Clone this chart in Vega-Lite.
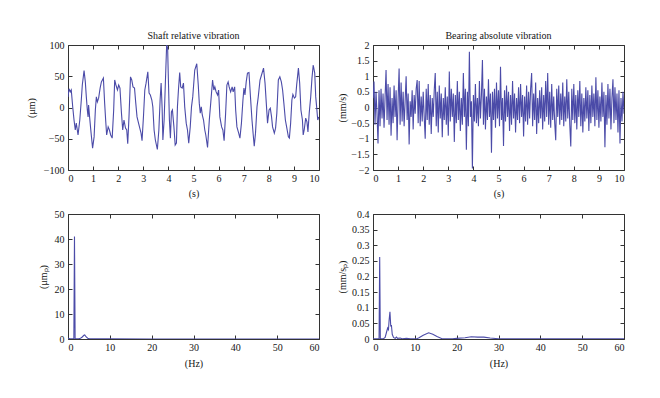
{
"$schema": "https://vega.github.io/schema/vega-lite/v6.json",
"background": "white",
"padding": {"left": 25, "top": 30, "right": 5, "bottom": 5},
"config": {
  "font": "Liberation Serif",
  "view": {"stroke": "#333333", "strokeWidth": 1},
  "axis": {"grid": false, "domain": false, "tickSize": -4, "tickColor": "#333333", "labelFont": "Liberation Serif", "labelFontSize": 10, "labelColor": "#161616", "titleFont": "Liberation Serif", "titleFontSize": 10, "titleFontWeight": "normal", "titleColor": "#161616"},
  "axisX": {"labelPadding": 7},
  "axisY": {"labelPadding": 8},
  "title": {"font": "Liberation Serif", "fontSize": 10, "fontWeight": "normal", "color": "#161616", "offset": -1},
  "line": {"color": "#4b4ba8", "strokeWidth": 1.1}
},
"datasets": {
"shaft": [{"t":0,"v":17},{"t":0.04,"v":30},{"t":0.09,"v":25},{"t":0.13,"v":28},{"t":0.19,"v":0},{"t":0.24,"v":-20},{"t":0.29,"v":-36},{"t":0.33,"v":-25},{"t":0.40,"v":-44},{"t":0.47,"v":-20},{"t":0.53,"v":12},{"t":0.57,"v":36},{"t":0.64,"v":59},{"t":0.69,"v":41},{"t":0.73,"v":17},{"t":0.77,"v":-4},{"t":0.80,"v":-15},{"t":0.82,"v":4},{"t":0.86,"v":-15},{"t":0.92,"v":-41},{"t":0.98,"v":-65},{"t":1.04,"v":-47},{"t":1.09,"v":-4},{"t":1.13,"v":17},{"t":1.17,"v":9},{"t":1.22,"v":15},{"t":1.28,"v":31},{"t":1.33,"v":41},{"t":1.37,"v":44},{"t":1.41,"v":47},{"t":1.46,"v":7},{"t":1.50,"v":-20},{"t":1.54,"v":-44},{"t":1.60,"v":-31},{"t":1.65,"v":-36},{"t":1.70,"v":-44},{"t":1.76,"v":-49},{"t":1.82,"v":-4},{"t":1.86,"v":44},{"t":1.91,"v":36},{"t":1.97,"v":28},{"t":2.02,"v":36},{"t":2.07,"v":31},{"t":2.13,"v":-9},{"t":2.18,"v":-36},{"t":2.23,"v":-20},{"t":2.29,"v":-33},{"t":2.34,"v":-36},{"t":2.38,"v":-58},{"t":2.43,"v":-15},{"t":2.49,"v":49},{"t":2.54,"v":44},{"t":2.59,"v":33},{"t":2.65,"v":31},{"t":2.70,"v":7},{"t":2.75,"v":-15},{"t":2.81,"v":-25},{"t":2.86,"v":-33},{"t":2.91,"v":-41},{"t":2.95,"v":-53},{"t":3.01,"v":-12},{"t":3.06,"v":28},{"t":3.11,"v":39},{"t":3.18,"v":57},{"t":3.23,"v":23},{"t":3.28,"v":20},{"t":3.34,"v":12},{"t":3.38,"v":1},{"t":3.43,"v":-36},{"t":3.48,"v":-52},{"t":3.56,"v":-67},{"t":3.62,"v":-36},{"t":3.67,"v":12},{"t":3.71,"v":39},{"t":3.75,"v":-1},{"t":3.78,"v":-52},{"t":3.83,"v":-20},{"t":3.88,"v":40},{"t":3.93,"v":100},{"t":3.97,"v":95},{"t":3.99,"v":60},{"t":4.04,"v":-20},{"t":4.08,"v":-49},{"t":4.12,"v":-7},{"t":4.16,"v":-4},{"t":4.22,"v":-31},{"t":4.27,"v":-60},{"t":4.32,"v":-57},{"t":4.36,"v":1},{"t":4.40,"v":28},{"t":4.45,"v":56},{"t":4.49,"v":33},{"t":4.55,"v":31},{"t":4.60,"v":39},{"t":4.65,"v":1},{"t":4.71,"v":-25},{"t":4.76,"v":-36},{"t":4.81,"v":-57},{"t":4.87,"v":-31},{"t":4.92,"v":1},{"t":4.97,"v":17},{"t":5.05,"v":60},{"t":5.13,"v":70},{"t":5.19,"v":36},{"t":5.23,"v":7},{"t":5.27,"v":-9},{"t":5.31,"v":1},{"t":5.35,"v":-12},{"t":5.40,"v":-20},{"t":5.45,"v":-36},{"t":5.49,"v":-44},{"t":5.56,"v":-64},{"t":5.63,"v":-20},{"t":5.69,"v":9},{"t":5.76,"v":44},{"t":5.81,"v":28},{"t":5.85,"v":33},{"t":5.90,"v":25},{"t":5.96,"v":20},{"t":6.00,"v":28},{"t":6.05,"v":-15},{"t":6.12,"v":-31},{"t":6.17,"v":-36},{"t":6.22,"v":-53},{"t":6.28,"v":-9},{"t":6.33,"v":36},{"t":6.38,"v":41},{"t":6.42,"v":33},{"t":6.48,"v":25},{"t":6.54,"v":33},{"t":6.58,"v":25},{"t":6.64,"v":33},{"t":6.68,"v":-4},{"t":6.73,"v":-31},{"t":6.80,"v":-41},{"t":6.85,"v":-49},{"t":6.91,"v":-25},{"t":6.97,"v":12},{"t":7.01,"v":31},{"t":7.05,"v":20},{"t":7.10,"v":41},{"t":7.15,"v":55},{"t":7.21,"v":56},{"t":7.27,"v":17},{"t":7.33,"v":-20},{"t":7.38,"v":-44},{"t":7.42,"v":-62},{"t":7.47,"v":-41},{"t":7.53,"v":1},{"t":7.58,"v":17},{"t":7.65,"v":44},{"t":7.71,"v":52},{"t":7.79,"v":63},{"t":7.85,"v":39},{"t":7.90,"v":7},{"t":7.95,"v":-25},{"t":8.01,"v":-4},{"t":8.06,"v":-1},{"t":8.11,"v":-15},{"t":8.15,"v":-31},{"t":8.22,"v":-41},{"t":8.27,"v":-33},{"t":8.32,"v":-9},{"t":8.38,"v":44},{"t":8.44,"v":49},{"t":8.50,"v":41},{"t":8.55,"v":28},{"t":8.60,"v":7},{"t":8.66,"v":-20},{"t":8.71,"v":-31},{"t":8.78,"v":-47},{"t":8.82,"v":-49},{"t":8.87,"v":-25},{"t":8.92,"v":12},{"t":8.96,"v":21},{"t":9.02,"v":15},{"t":9.07,"v":17},{"t":9.11,"v":36},{"t":9.18,"v":63},{"t":9.23,"v":39},{"t":9.28,"v":-4},{"t":9.34,"v":-20},{"t":9.37,"v":-44},{"t":9.41,"v":-36},{"t":9.47,"v":-17},{"t":9.52,"v":-23},{"t":9.56,"v":-39},{"t":9.61,"v":-9},{"t":9.67,"v":17},{"t":9.72,"v":47},{"t":9.77,"v":68},{"t":9.83,"v":55},{"t":9.87,"v":17},{"t":9.91,"v":-1},{"t":9.95,"v":-20},{"t":9.99,"v":-15}],
"bearing": [{"t":0.00,"v":0.30},{"t":0.04,"v":0.83},{"t":0.08,"v":-0.55},{"t":0.12,"v":0.50},{"t":0.16,"v":-0.20},{"t":0.20,"v":-1.15},{"t":0.24,"v":0.55},{"t":0.28,"v":-0.60},{"t":0.32,"v":0.60},{"t":0.36,"v":-0.35},{"t":0.40,"v":0.45},{"t":0.44,"v":-0.65},{"t":0.48,"v":0.30},{"t":0.52,"v":1.20},{"t":0.56,"v":-0.40},{"t":0.60,"v":0.75},{"t":0.64,"v":-0.55},{"t":0.68,"v":0.65},{"t":0.72,"v":-0.90},{"t":0.76,"v":0.30},{"t":0.80,"v":-0.50},{"t":0.84,"v":0.70},{"t":0.88,"v":-0.30},{"t":0.92,"v":0.55},{"t":0.96,"v":-1.05},{"t":1.00,"v":0.25},{"t":1.04,"v":1.25},{"t":1.08,"v":-0.55},{"t":1.12,"v":0.80},{"t":1.16,"v":-0.45},{"t":1.20,"v":0.50},{"t":1.24,"v":-0.60},{"t":1.28,"v":0.20},{"t":1.32,"v":1.00},{"t":1.36,"v":-0.40},{"t":1.40,"v":0.45},{"t":1.44,"v":-1.18},{"t":1.48,"v":0.20},{"t":1.52,"v":-0.30},{"t":1.56,"v":0.55},{"t":1.60,"v":-0.70},{"t":1.64,"v":0.40},{"t":1.68,"v":-0.20},{"t":1.72,"v":0.60},{"t":1.76,"v":0.88},{"t":1.80,"v":-0.50},{"t":1.84,"v":0.85},{"t":1.88,"v":-0.60},{"t":1.92,"v":0.35},{"t":1.96,"v":-0.45},{"t":2.00,"v":0.50},{"t":2.04,"v":-0.30},{"t":2.08,"v":-1.00},{"t":2.12,"v":0.60},{"t":2.16,"v":-0.40},{"t":2.20,"v":0.75},{"t":2.24,"v":-0.55},{"t":2.28,"v":0.40},{"t":2.32,"v":-0.85},{"t":2.36,"v":0.30},{"t":2.40,"v":-0.30},{"t":2.44,"v":0.55},{"t":2.48,"v":1.10},{"t":2.52,"v":-0.60},{"t":2.56,"v":0.50},{"t":2.60,"v":-0.80},{"t":2.64,"v":0.70},{"t":2.68,"v":-0.35},{"t":2.72,"v":0.45},{"t":2.76,"v":-0.95},{"t":2.80,"v":0.30},{"t":2.84,"v":-0.40},{"t":2.88,"v":0.65},{"t":2.92,"v":-0.55},{"t":2.96,"v":0.35},{"t":3.00,"v":-0.90},{"t":3.04,"v":1.15},{"t":3.08,"v":-0.45},{"t":3.12,"v":0.60},{"t":3.16,"v":-0.30},{"t":3.20,"v":0.45},{"t":3.24,"v":-1.10},{"t":3.28,"v":0.40},{"t":3.32,"v":-0.50},{"t":3.36,"v":0.85},{"t":3.40,"v":-0.40},{"t":3.44,"v":0.50},{"t":3.48,"v":-0.75},{"t":3.52,"v":0.30},{"t":3.56,"v":-0.55},{"t":3.60,"v":1.10},{"t":3.64,"v":-0.30},{"t":3.68,"v":0.60},{"t":3.72,"v":-1.35},{"t":3.76,"v":0.50},{"t":3.80,"v":-0.60},{"t":3.84,"v":1.78},{"t":3.88,"v":-0.30},{"t":3.92,"v":0.20},{"t":3.96,"v":-1.95},{"t":4.00,"v":0.40},{"t":4.04,"v":-0.45},{"t":4.08,"v":0.75},{"t":4.12,"v":-0.50},{"t":4.16,"v":0.30},{"t":4.20,"v":-0.60},{"t":4.24,"v":0.85},{"t":4.28,"v":-0.35},{"t":4.32,"v":0.40},{"t":4.36,"v":1.52},{"t":4.40,"v":-0.55},{"t":4.44,"v":0.60},{"t":4.48,"v":-0.70},{"t":4.52,"v":0.35},{"t":4.56,"v":-0.40},{"t":4.60,"v":0.90},{"t":4.64,"v":-0.30},{"t":4.68,"v":0.45},{"t":4.72,"v":-1.45},{"t":4.76,"v":0.50},{"t":4.80,"v":-0.40},{"t":4.84,"v":0.60},{"t":4.88,"v":-0.65},{"t":4.92,"v":0.80},{"t":4.96,"v":-0.35},{"t":5.00,"v":0.55},{"t":5.04,"v":-0.60},{"t":5.08,"v":1.30},{"t":5.12,"v":-0.40},{"t":5.16,"v":0.30},{"t":5.20,"v":-1.23},{"t":5.24,"v":0.55},{"t":5.28,"v":-0.45},{"t":5.32,"v":0.70},{"t":5.36,"v":-0.30},{"t":5.40,"v":0.50},{"t":5.44,"v":-0.75},{"t":5.48,"v":0.40},{"t":5.52,"v":-0.55},{"t":5.56,"v":0.85},{"t":5.60,"v":-0.35},{"t":5.64,"v":0.45},{"t":5.68,"v":-0.80},{"t":5.72,"v":0.30},{"t":5.76,"v":-0.40},{"t":5.80,"v":0.65},{"t":5.84,"v":-0.50},{"t":5.88,"v":0.75},{"t":5.92,"v":-0.30},{"t":5.96,"v":0.40},{"t":6.00,"v":-0.93},{"t":6.04,"v":0.35},{"t":6.08,"v":-0.45},{"t":6.12,"v":0.70},{"t":6.16,"v":-0.55},{"t":6.20,"v":0.50},{"t":6.24,"v":-0.35},{"t":6.28,"v":0.60},{"t":6.32,"v":1.10},{"t":6.36,"v":-0.60},{"t":6.40,"v":0.45},{"t":6.44,"v":-0.40},{"t":6.48,"v":0.80},{"t":6.52,"v":-0.85},{"t":6.56,"v":0.30},{"t":6.60,"v":-0.50},{"t":6.64,"v":0.55},{"t":6.68,"v":-0.35},{"t":6.72,"v":0.65},{"t":6.76,"v":-0.70},{"t":6.80,"v":0.40},{"t":6.84,"v":-0.45},{"t":6.88,"v":0.85},{"t":6.92,"v":-0.30},{"t":6.96,"v":1.10},{"t":7.00,"v":-0.55},{"t":7.04,"v":0.50},{"t":7.08,"v":-0.65},{"t":7.12,"v":0.75},{"t":7.16,"v":-0.40},{"t":7.20,"v":0.35},{"t":7.24,"v":-0.50},{"t":7.28,"v":-1.05},{"t":7.32,"v":0.60},{"t":7.36,"v":-0.30},{"t":7.40,"v":0.70},{"t":7.44,"v":-0.55},{"t":7.48,"v":0.45},{"t":7.52,"v":-0.40},{"t":7.56,"v":0.80},{"t":7.60,"v":-0.60},{"t":7.64,"v":0.35},{"t":7.68,"v":-0.45},{"t":7.72,"v":0.90},{"t":7.76,"v":-0.35},{"t":7.80,"v":0.50},{"t":7.84,"v":-0.55},{"t":7.88,"v":-1.25},{"t":7.92,"v":0.60},{"t":7.96,"v":-0.40},{"t":8.00,"v":0.75},{"t":8.04,"v":-0.50},{"t":8.08,"v":0.40},{"t":8.12,"v":-0.70},{"t":8.16,"v":0.55},{"t":8.20,"v":-0.30},{"t":8.24,"v":0.85},{"t":8.28,"v":-0.60},{"t":8.32,"v":0.45},{"t":8.36,"v":-0.80},{"t":8.40,"v":0.30},{"t":8.44,"v":-0.45},{"t":8.48,"v":0.65},{"t":8.52,"v":-0.35},{"t":8.56,"v":0.55},{"t":8.60,"v":-0.75},{"t":8.64,"v":0.40},{"t":8.68,"v":-0.50},{"t":8.72,"v":0.70},{"t":8.76,"v":-0.30},{"t":8.80,"v":0.45},{"t":8.84,"v":-0.60},{"t":8.88,"v":0.97},{"t":8.92,"v":-0.40},{"t":8.96,"v":0.55},{"t":9.00,"v":-0.65},{"t":9.04,"v":0.35},{"t":9.08,"v":-0.45},{"t":9.12,"v":0.80},{"t":9.16,"v":-0.30},{"t":9.20,"v":0.50},{"t":9.24,"v":-1.27},{"t":9.28,"v":0.40},{"t":9.32,"v":-0.55},{"t":9.36,"v":0.75},{"t":9.40,"v":-0.35},{"t":9.44,"v":0.60},{"t":9.48,"v":-0.70},{"t":9.52,"v":0.30},{"t":9.56,"v":0.90},{"t":9.60,"v":-0.50},{"t":9.64,"v":0.65},{"t":9.68,"v":-0.40},{"t":9.72,"v":0.45},{"t":9.76,"v":-0.80},{"t":9.80,"v":0.55},{"t":9.84,"v":-1.15},{"t":9.88,"v":0.30},{"t":9.92,"v":-0.45},{"t":9.96,"v":0.50},{"t":10.00,"v":-0.20}],
"shaftfft": [{"f":0,"a":0.3},{"f":0.5,"a":0.1},{"f":1.0,"a":0.1},{"f":1.4,"a":0.2},{"f":1.55,"a":41},{"f":1.7,"a":0.2},{"f":2.0,"a":0.1},{"f":2.5,"a":0.1},{"f":3.0,"a":0.3},{"f":3.4,"a":0.8},{"f":3.8,"a":1.5},{"f":4.0,"a":1.6},{"f":4.3,"a":0.9},{"f":4.7,"a":0.3},{"f":5.2,"a":0.1},{"f":6,"a":0.05},{"f":10,"a":0.05},{"f":20,"a":0.02},{"f":40,"a":0.01},{"f":60,"a":0.01}],
"bearingfft": [{"f":0,"a":0.001},{"f":1.0,"a":0.001},{"f":1.45,"a":0.001},{"f":1.6,"a":0.262},{"f":1.75,"a":0.001},{"f":2.5,"a":0.001},{"f":2.9,"a":0.005},{"f":3.2,"a":0.02},{"f":3.5,"a":0.035},{"f":3.7,"a":0.03},{"f":3.85,"a":0.06},{"f":4.05,"a":0.087},{"f":4.25,"a":0.04},{"f":4.4,"a":0.045},{"f":4.6,"a":0.015},{"f":4.9,"a":0.005},{"f":5.3,"a":0.002},{"f":5.6,"a":0.006},{"f":5.9,"a":0.002},{"f":6.5,"a":0.003},{"f":7,"a":0.001},{"f":8,"a":0.002},{"f":9,"a":0.001},{"f":10.5,"a":0.001},{"f":11,"a":0.004},{"f":12,"a":0.012},{"f":13.3,"a":0.02},{"f":14.3,"a":0.015},{"f":15.3,"a":0.008},{"f":16.5,"a":0.001},{"f":19,"a":0.001},{"f":20,"a":0.002},{"f":22,"a":0.004},{"f":23.5,"a":0.007},{"f":25,"a":0.006},{"f":26.5,"a":0.006},{"f":28,"a":0.003},{"f":30,"a":0.001},{"f":40,"a":0.0005},{"f":60,"a":0.0005}]
},
"columns": 2,
"bounds": "flush",
"spacing": {"column": 54, "row": 44},
"concat": [
{
 "title": "Shaft relative vibration",
 "width": 251, "height": 125,
 "data": {"name": "shaft"},
 "layer": [
  {"mark": {"type": "line", "clip": true},
   "encoding": {
    "x": {"field": "t", "type": "quantitative", "scale": {"domain": [0, 10], "nice": false, "zero": false}, "axis": {"values": [0,1,2,3,4,5,6,7,8,9,10], "title": "(s)", "titleY": 23, "titleBaseline": "middle"}},
    "y": {"field": "v", "type": "quantitative", "scale": {"domain": [-100, 100], "nice": false}, "axis": {"values": [-100,-50,0,50,100], "title": "(μm)", "titleX": -37, "titleBaseline": "middle"}}
   }},
  {"mark": {"type": "line", "opacity": 0},
   "encoding": {
    "x": {"field": "t", "type": "quantitative", "scale": {"domain": [0, 10], "nice": false, "zero": false}, "axis": {"orient": "top", "labels": false, "title": null, "values": [0,1,2,3,4,5,6,7,8,9,10]}},
    "y": {"field": "v", "type": "quantitative", "scale": {"domain": [-100, 100], "nice": false}, "axis": {"orient": "right", "labels": false, "title": null, "values": [-100,-50,0,50,100]}}
   }}
 ],
 "resolve": {"axis": {"x": "independent", "y": "independent"}}
},
{
 "title": "Bearing absolute vibration",
 "width": 251, "height": 125,
 "data": {"name": "bearing"},
 "layer": [
  {"mark": {"type": "line", "clip": true},
   "encoding": {
    "x": {"field": "t", "type": "quantitative", "scale": {"domain": [0, 10], "nice": false, "zero": false}, "axis": {"values": [0,1,2,3,4,5,6,7,8,9,10], "title": "(s)", "titleY": 23, "titleBaseline": "middle"}},
    "y": {"field": "v", "type": "quantitative", "scale": {"domain": [-2, 2], "nice": false}, "axis": {"values": [-2,-1.5,-1,-0.5,0,0.5,1,1.5,2], "format": "~g", "title": "(mm/s)", "titleX": -31, "titleBaseline": "middle"}}
   }},
  {"mark": {"type": "line", "opacity": 0},
   "encoding": {
    "x": {"field": "t", "type": "quantitative", "scale": {"domain": [0, 10], "nice": false, "zero": false}, "axis": {"orient": "top", "labels": false, "title": null, "values": [0,1,2,3,4,5,6,7,8,9,10]}},
    "y": {"field": "v", "type": "quantitative", "scale": {"domain": [-2, 2], "nice": false}, "axis": {"orient": "right", "labels": false, "title": null, "values": [-2,-1.5,-1,-0.5,0,0.5,1,1.5,2]}}
   }}
 ],
 "resolve": {"axis": {"x": "independent", "y": "independent"}}
},
{
 "width": 251, "height": 125,
 "data": {"name": "shaftfft"},
 "layer": [
  {"mark": {"type": "line", "clip": true},
   "encoding": {
    "x": {"field": "f", "type": "quantitative", "scale": {"domain": [0, 60], "nice": false}, "axis": {"values": [0,10,20,30,40,50,60], "title": "(Hz)", "titleY": 24, "titleBaseline": "middle"}},
    "y": {"field": "a", "type": "quantitative", "scale": {"domain": [0, 50], "nice": false}, "axis": {"values": [0,10,20,30,40,50], "title": "(μmₚ)", "titleX": -25, "titleBaseline": "middle"}}
   }},
  {"mark": {"type": "line", "opacity": 0},
   "encoding": {
    "x": {"field": "f", "type": "quantitative", "scale": {"domain": [0, 60], "nice": false}, "axis": {"orient": "top", "labels": false, "title": null, "values": [0,10,20,30,40,50,60]}},
    "y": {"field": "a", "type": "quantitative", "scale": {"domain": [0, 50], "nice": false}, "axis": {"orient": "right", "labels": false, "title": null, "values": [0,10,20,30,40,50]}}
   }}
 ],
 "resolve": {"axis": {"x": "independent", "y": "independent"}}
},
{
 "width": 251, "height": 125,
 "data": {"name": "bearingfft"},
 "layer": [
  {"mark": {"type": "line", "clip": true},
   "encoding": {
    "x": {"field": "f", "type": "quantitative", "scale": {"domain": [0, 60], "nice": false}, "axis": {"values": [0,10,20,30,40,50,60], "title": "(Hz)", "titleY": 24, "titleBaseline": "middle"}},
    "y": {"field": "a", "type": "quantitative", "scale": {"domain": [0, 0.4], "nice": false}, "axis": {"values": [0,0.05,0.1,0.15,0.2,0.25,0.3,0.35,0.4], "format": "~g", "title": "(mm/sₚ)", "titleX": -31, "titleBaseline": "middle"}}
   }},
  {"mark": {"type": "line", "opacity": 0},
   "encoding": {
    "x": {"field": "f", "type": "quantitative", "scale": {"domain": [0, 60], "nice": false}, "axis": {"orient": "top", "labels": false, "title": null, "values": [0,10,20,30,40,50,60]}},
    "y": {"field": "a", "type": "quantitative", "scale": {"domain": [0, 0.4], "nice": false}, "axis": {"orient": "right", "labels": false, "title": null, "values": [0,0.05,0.1,0.15,0.2,0.25,0.3,0.35,0.4]}}
   }}
 ],
 "resolve": {"axis": {"x": "independent", "y": "independent"}}
}
]
}
